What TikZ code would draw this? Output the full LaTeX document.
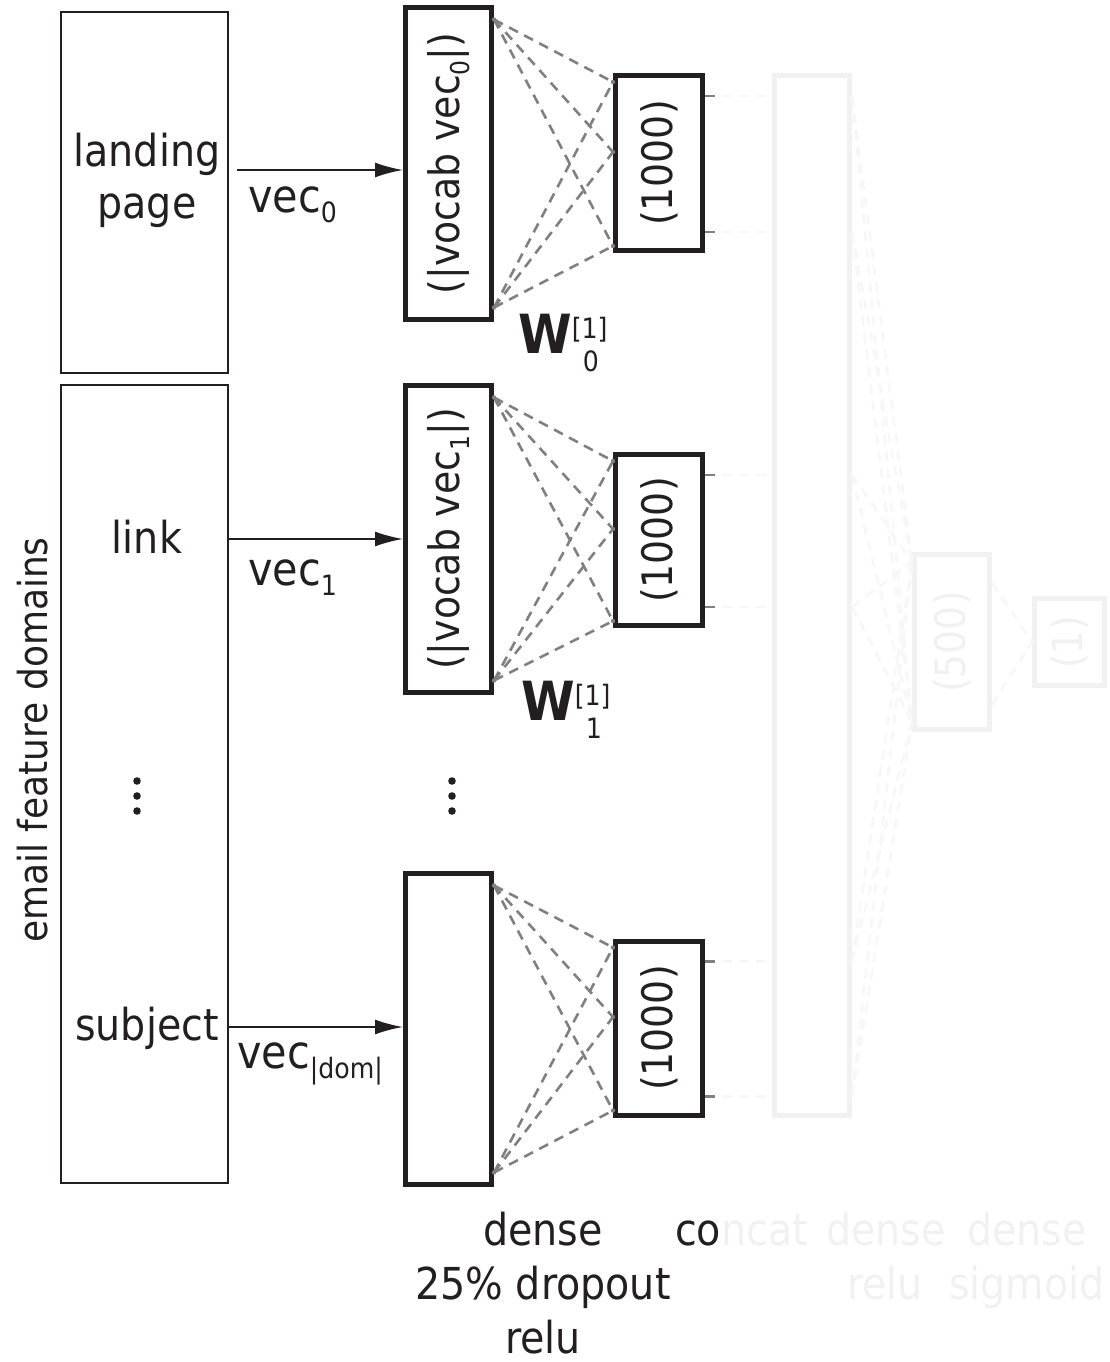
\documentclass[tikz,border=0pt]{standalone}
\usepackage{fontspec}
\setmainfont{DejaVu Sans Condensed}
\usetikzlibrary{arrows.meta,calc}
\definecolor{ink}{HTML}{231F20}
\definecolor{wire}{HTML}{808080}
\newcommand\lsub[2][28]{\raisebox{-10pt}{\fontsize{#1}{#1}\selectfont #2}}
\newcommand\wlabel[1]{{\fontsize{54}{56}\selectfont\textbf{W}}\rlap{\raisebox{15pt}{\fontsize{28}{28}\selectfont [1]}}\raisebox{-18pt}{\makebox[38pt][c]{\fontsize{28}{28}\selectfont #1}}}
\begin{document}
\begin{tikzpicture}[x=1pt,y=-1pt,
  thinbox/.style={draw=ink, line width=2pt, inner sep=0pt},
  thickbox/.style={draw=ink, line width=5pt, inner sep=0pt},
  lbl/.style={font=\fontsize{44}{52}\selectfont, text=ink, inner sep=0pt},
  rlbl/.style={font=\fontsize{42}{50}\selectfont, text=ink, inner sep=0pt, rotate=90},
  conn/.style={draw=wire, line width=2.6pt, dash pattern=on 10pt off 7pt},
  arr/.style={draw=ink, line width=2pt, -{Latex[length=28pt,width=15pt]}}]
\useasboundingbox (0,0) rectangle (1109,1362);

% input domain boxes
\node[thinbox, minimum width=167pt, minimum height=361pt] (lp) at (144.5,192.5) {};
\node[thinbox, minimum width=167pt, minimum height=798pt] (ef) at (144.5,784) {};
\node[lbl, align=center, anchor=base] (lpt) at (147,218) {landing\\page};
\node[lbl, anchor=base] (lk) at (147,553) {link};
\node[lbl, anchor=base] (sj) at (147,1040) {subject};
\node[lbl, rotate=90, font=\fontsize{40}{48}\selectfont] (efd) at (33,740) {email feature domains};
\foreach \y in {781,796,811} \fill[ink] (137,\y) circle (3.8);
\foreach \y in {781,796,811} \fill[ink] (452,\y) circle (3.8);

% vocab boxes
\node[thickbox, minimum width=86pt, minimum height=312pt] (v0) at (448.5,163.5) {};
\node[thickbox, minimum width=86pt, minimum height=307pt] (v1) at (448.5,539) {};
\node[thickbox, minimum width=86pt, minimum height=311pt] (v2) at (448.5,1029) {};
\node[rlbl] (v0t) at (v0) {(|vocab vec\lsub[26]{0}|)};
\node[rlbl] (v1t) at (v1) {(|vocab vec\lsub[26]{1}|)};

% dense 1000 boxes
\node[thickbox, minimum width=87pt, minimum height=175pt] (d0) at (659,163) {};
\node[thickbox, minimum width=87pt, minimum height=171pt] (d1) at (659,540) {};
\node[thickbox, minimum width=87pt, minimum height=174pt] (d2) at (659,1028) {};
\node[rlbl] (d0t) at (d0) {(1000)};
\node[rlbl] (d1t) at (d1) {(1000)};
\node[rlbl] (d2t) at (d2) {(1000)};

% concat, 500, 1
\node[thickbox, minimum width=75pt, minimum height=1040pt] (cc) at (812,595.5) {};
\node[thickbox, minimum width=75pt, minimum height=175pt] (h) at (952,642) {};
\node[thickbox, minimum width=70pt, minimum height=87pt] (o) at (1069.5,642) {};
\node[rlbl] (ht) at (h) {(500)};
\node[rlbl] (ot) at (o) {(1)};

% arrows
\coordinate (x0) at ($(v0.west)+(0,6.5)$);
\draw[arr] ($(lp.east |- x0)+(8,0)$) -- (x0);
\draw[arr] (ef.east |- v1.west) -- (v1.west);
\draw[arr] ($(ef.east |- v2.west)+(0,-2)$) -- ($(v2.west)+(0,-2)$);
\node[lbl, anchor=base west, font=\fontsize{46}{50}\selectfont] (e0) at (248,212) {vec\lsub{0}};
\node[lbl, anchor=base west, font=\fontsize{46}{50}\selectfont] (e1) at (248,585) {vec\lsub{1}};
\node[lbl, anchor=base west, font=\fontsize{46}{50}\selectfont] (e2) at (237,1068) {vec\lsub{|dom|}};

% W labels
\node[lbl, anchor=base west] (w0) at (518,353) {\wlabel{0}};
\node[lbl, anchor=base west] (w1) at (521,720) {\wlabel{1}};

% connections
\foreach \i in {0,1,2}{
  \path ($(v\i.north east)+(0,14.5)$) coordinate (a\i)
        ($(v\i.south east)+(0,-14.5)$) coordinate (b\i)
        ($(d\i.north west)+(0,9)$) coordinate (p\i)
        ($(d\i.west)+(0,-11)$) coordinate (q\i)
        ($(d\i.south west)+(0,-7)$) coordinate (r\i)
        ($(d\i.north east)+(0,23)$) coordinate (m\i)
        ($(d\i.south east)+(0,-21)$) coordinate (n\i);
  \foreach \s in {a,b}{
    \foreach \t in {p,q,r}{
      \draw[conn] (\s\i) -- (\t\i);
    }
  }
  \foreach \s in {a,b,p,q,r}{\fill[wire] (\s\i) circle (2.2);}
  \draw[conn] (m\i) -- (cc.west |- m\i);
  \draw[conn] (n\i) -- (cc.west |- n\i);
  \draw[conn] (cc.east |- m\i) -- ($(h.north west)+(0,10)$);
  \draw[conn] (cc.east |- m\i) -- ($(h.south west)+(0,-10)$);
  \draw[conn] (cc.east |- n\i) -- ($(h.north west)+(0,10)$);
  \draw[conn] (cc.east |- n\i) -- ($(h.south west)+(0,-10)$);
}
\draw[conn] ($(h.north east)+(0,31)$) -- (o.west);
\draw[conn] ($(h.south east)+(0,-27)$) -- (o.west);

% bottom labels
\node[lbl, anchor=base] (b1) at (543,1245) {dense};
\node[lbl, anchor=base] (b2) at (543,1299) {25\% dropout};
\node[lbl, anchor=base] (b3) at (543,1353) {relu};
\node[lbl, anchor=base west] (b4) at (675,1245) {concat};
\node[lbl, anchor=base] (b5) at (886,1245) {dense};
\node[lbl, anchor=base] (b6) at (885,1299) {relu};
\node[lbl, anchor=base] (b7) at (1027,1245) {dense};
\node[lbl, anchor=base] (b8) at (1027,1299) {sigmoid};

% fading veil over the right part
\fill[white, opacity=0.94] (719,0) rectangle (1109,1362);
\end{tikzpicture}
\end{document}
